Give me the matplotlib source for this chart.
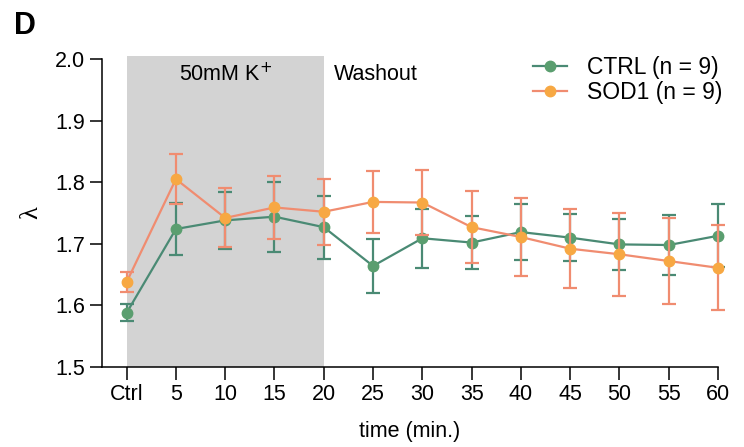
import numpy as np
from matplotlib import pyplot as plt
from matplotlib.lines import Line2D

plt.rcParams['font.family'] = ['Liberation Sans', 'DejaVu Sans']

# time points (Ctrl baseline then minutes)
tick_labels = ["Ctrl", "5", "10", "15", "20", "25", "30", "35", "40", "45", "50", "55", "60"]

ctrl_mean = [1.588, 1.724, 1.738, 1.744, 1.727, 1.664, 1.709, 1.702, 1.719, 1.710, 1.699, 1.698, 1.713]
ctrl_err = [0.014, 0.042, 0.046, 0.057, 0.051, 0.044, 0.048, 0.043, 0.045, 0.038, 0.041, 0.049, 0.051]

sod1_mean = [1.638, 1.805, 1.742, 1.759, 1.752, 1.768, 1.767, 1.727, 1.711, 1.692, 1.683, 1.672, 1.661]
sod1_err = [0.016, 0.041, 0.048, 0.051, 0.054, 0.050, 0.052, 0.058, 0.063, 0.064, 0.067, 0.070, 0.069]

green_line, green_dot = "#4a8a74", "#5a9e6f"
orange_line, orange_dot = "#f08c70", "#f7a843"

x = np.arange(len(tick_labels))

fig = plt.figure(figsize=(7.44, 4.47), dpi=100)
ax = fig.add_axes([0.1371, 0.179, 0.8280, 0.689])

# stimulation window
ax.axvspan(0, 4, ymin=0, ymax=1.01, color="#d3d3d3", lw=0, zorder=0, clip_on=False)

ax.errorbar(x, ctrl_mean, yerr=ctrl_err, color=green_line, lw=1.6, capsize=5, capthick=1.6,
            marker="o", ms=7.5, mfc=green_dot, mec=green_dot, clip_on=False, zorder=3)
ax.errorbar(x, sod1_mean, yerr=sod1_err, color=orange_line, lw=1.6, capsize=5, capthick=1.6,
            marker="o", ms=7.5, mfc=orange_dot, mec=orange_dot, clip_on=False, zorder=4)

ax.set_xlim(-0.5, 12)
ax.set_ylim(1.5, 2.0)
ax.set_xticks(x)
ax.set_xticklabels(tick_labels)
ax.set_yticks([1.5, 1.6, 1.7, 1.8, 1.9, 2.0])
ax.set_yticklabels(["1.5", "1.6", "1.7", "1.8", "1.9", "2.0"])
ax.tick_params(labelsize=15.5, length=9, width=1.1, direction="out", pad=3)
for s in ["top", "right"]:
    ax.spines[s].set_visible(False)
for s in ["left", "bottom"]:
    ax.spines[s].set_linewidth(1.1)

ax.set_xlabel("time (min.)", fontsize=15.5, labelpad=12)
ax.set_ylabel("λ", fontsize=19, labelpad=9, family=["Liberation Serif", "DejaVu Serif"])

ax.text(2, 1.975, "50mM K$^{+}$", ha="center", va="center", fontsize=15.5)
ax.text(4.2, 1.975, "Washout", ha="left", va="center", fontsize=15.5)
fig.text(0.019, 0.942, "D", fontsize=22, fontweight="bold", ha="left", va="center")

handles = [Line2D([], [], color=green_line, lw=1.6, marker="o", ms=7.5, mfc=green_dot, mec=green_dot),
           Line2D([], [], color=orange_line, lw=1.6, marker="o", ms=7.5, mfc=orange_dot, mec=orange_dot)]
ax.legend(handles, ["CTRL (n = 9)", "SOD1 (n = 9)"], loc="upper right",
          bbox_to_anchor=(1.04, 1.077), frameon=False, fontsize=16.5,
          handlelength=1.5, handletextpad=0.85, labelspacing=0.1)

fig.savefig("out.png", dpi=100)
